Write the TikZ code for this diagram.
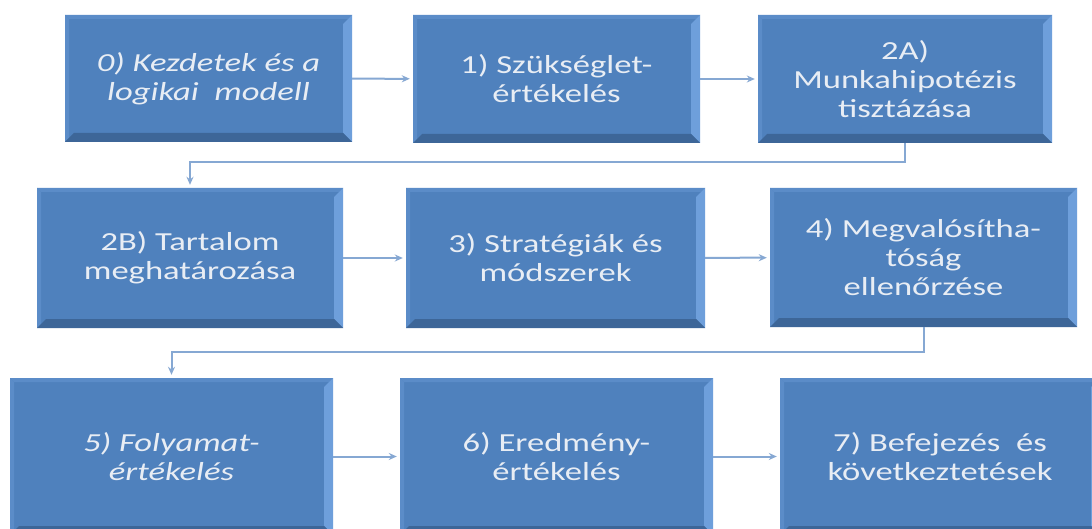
\documentclass[tikz,border=0pt]{standalone}
\usepackage{fontspec}
\setmainfont{Carlito}[FakeStretch=1.33]
\usetikzlibrary{arrows.meta}

\definecolor{boxblue}{HTML}{4F81BD}
\definecolor{bevellight}{HTML}{6E9FDB}
\definecolor{beveltop}{HTML}{5B8CC8}
\definecolor{beveldark}{HTML}{3D6698}
\definecolor{boxtext}{HTML}{E8EDF4}
\definecolor{connblue}{HTML}{86A8D3}

\begin{document}
\begin{tikzpicture}[x=1pt,y=-1pt,
		stagebox/.style={fill=boxblue, text=boxtext, align=center, inner sep=0pt,
			font=\fontsize{26}{29}\selectfont,
			path picture={
				\fill[beveltop] (path picture bounding box.north west) -- (path picture bounding box.north east)
					-- ([shift={(-4pt,-4pt)}]path picture bounding box.north east) -- ([shift={(4pt,-4pt)}]path picture bounding box.north west) -- cycle;
				\fill[beveltop] (path picture bounding box.north west) -- (path picture bounding box.south west)
					-- ([shift={(4pt,4pt)}]path picture bounding box.south west) -- ([shift={(4pt,-4pt)}]path picture bounding box.north west) -- cycle;
				\fill[bevellight] (path picture bounding box.north east) -- (path picture bounding box.south east)
					-- ([shift={(-9pt,9pt)}]path picture bounding box.south east) -- ([shift={(-9pt,-9pt)}]path picture bounding box.north east) -- cycle;
				\fill[beveldark] (path picture bounding box.south west) -- (path picture bounding box.south east)
					-- ([shift={(-9pt,9pt)}]path picture bounding box.south east) -- ([shift={(9pt,9pt)}]path picture bounding box.south west) -- cycle;
			}},
		conn/.style={draw=connblue, line width=2pt, -{Stealth[length=8pt,width=7pt]}, shorten >=3pt}]

		\clip (0,0) rectangle (1092,529);
		\fill[white] (0,0) rectangle (1092,529);

		% first row
		\node[stagebox, minimum width=287, minimum height=127] (b0) at (208.5,78.5) {\itshape 0) Kezdetek és a\\\itshape logikai~ modell};
		\node[stagebox, minimum width=287, minimum height=128] (b1) at (556.5,79) {1) Szükséglet-\\értékelés};
		\node[stagebox, minimum width=294, minimum height=128] (b2a) at (905,79) {2A)\\Munkahipotézis\\tisztázása};

		% second row
		\node[stagebox, minimum width=306, minimum height=140] (b2b) at (190,258) {2B) Tartalom\\meghatározása};
		\node[stagebox, minimum width=299, minimum height=140] (b3) at (555.5,258) {3) Stratégiák és\\módszerek};
		\node[stagebox, minimum width=307, minimum height=139] (b4) at (923.5,257.5) {4) Megvalósítha-\\tóság\\ellenőrzése};

		% third row
		\node[stagebox, minimum width=323, minimum height=157] (b5) at (171.5,456.5) {\itshape 5) Folyamat-\\\itshape értékelés};
		\node[stagebox, minimum width=313, minimum height=157] (b6) at (556.5,456.5) {6) Eredmény-\\értékelés};
		\node[stagebox, minimum width=320, minimum height=157] (b7) at (940,456.5) {7) Befejezés~ és\\következtetések};

		\draw[conn] (b0) -- (b1);
		\draw[conn] (b1) -- (b2a);
		\draw[conn] (b2a.south) -- ++(0,19) -| (b2b.north);
		\draw[conn] (b2b) -- (b3);
		\draw[conn] (b3) -- (b4);
		\draw[conn] (b4.south) -- ++(0,25) -| (b5.north);
		\draw[conn] (b5) -- (b6);
		\draw[conn] (b6) -- (b7);

	\end{tikzpicture}
\end{document}
